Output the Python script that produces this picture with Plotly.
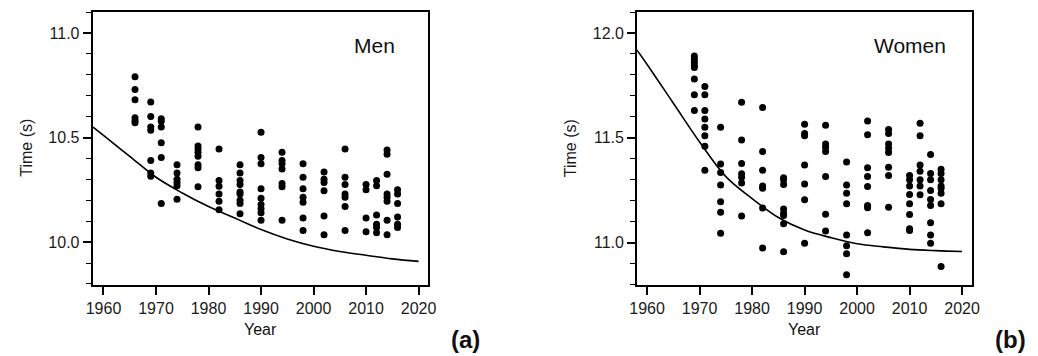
import plotly.graph_objects as go

# ---------------- data ----------------
men_years = [1966, 1969, 1971, 1974, 1978, 1982, 1986, 1990, 1994, 1998, 2002, 2006, 2010, 2012, 2014, 2016]
men_times = [
    [10.79, 10.73, 10.68, 10.595, 10.58, 10.57],
    [10.67, 10.60, 10.55, 10.535, 10.39, 10.33, 10.315],
    [10.59, 10.578, 10.55, 10.475, 10.405, 10.185],
    [10.37, 10.33, 10.30, 10.285, 10.27, 10.205],
    [10.55, 10.46, 10.445, 10.43, 10.41, 10.37, 10.355, 10.265],
    [10.445, 10.295, 10.267, 10.23, 10.195, 10.155],
    [10.37, 10.33, 10.295, 10.275, 10.24, 10.23, 10.20, 10.185, 10.135],
    [10.525, 10.405, 10.375, 10.255, 10.21, 10.18, 10.16, 10.14, 10.105],
    [10.43, 10.39, 10.375, 10.35, 10.28, 10.265, 10.105],
    [10.375, 10.31, 10.255, 10.215, 10.19, 10.115, 10.055],
    [10.335, 10.30, 10.285, 10.245, 10.125, 10.035],
    [10.445, 10.31, 10.275, 10.23, 10.215, 10.17, 10.055],
    [10.275, 10.25, 10.115, 10.05],
    [10.295, 10.27, 10.13, 10.085, 10.07, 10.045],
    [10.44, 10.42, 10.325, 10.23, 10.215, 10.195, 10.105, 10.035],
    [10.25, 10.23, 10.185, 10.12, 10.085, 10.07],
]
men_curve_years = [1958, 1960, 1965, 1970, 1975, 1980, 1985, 1990, 1995, 2000, 2005, 2010, 2015, 2020]
men_curve_times = [10.55, 10.51, 10.41, 10.31, 10.235, 10.17, 10.115, 10.06, 10.015, 9.98, 9.955, 9.937, 9.92, 9.908]

women_years = [1969, 1971, 1974, 1978, 1982, 1986, 1990, 1994, 1998, 2002, 2006, 2010, 2012, 2014, 2016]
women_times = [
    [11.89, 11.875, 11.86, 11.845, 11.835, 11.78, 11.705, 11.63],
    [11.745, 11.705, 11.63, 11.59, 11.55, 11.51, 11.46, 11.345],
    [11.55, 11.375, 11.335, 11.275, 11.195, 11.145, 11.045],
    [11.67, 11.49, 11.377, 11.328, 11.312, 11.285, 11.127],
    [11.645, 11.435, 11.345, 11.27, 11.26, 11.165, 10.975],
    [11.31, 11.30, 11.277, 11.16, 11.14, 11.13, 11.09, 10.957],
    [11.565, 11.52, 11.51, 11.37, 11.28, 11.205, 10.997],
    [11.56, 11.47, 11.455, 11.435, 11.315, 11.135, 11.055],
    [11.385, 11.275, 11.235, 11.185, 11.037, 10.985, 10.947, 10.847],
    [11.58, 11.515, 11.357, 11.315, 11.268, 11.177, 11.166, 11.047],
    [11.54, 11.52, 11.47, 11.45, 11.43, 11.36, 11.32, 11.169],
    [11.32, 11.30, 11.27, 11.23, 11.185, 11.134, 11.066, 11.058],
    [11.57, 11.51, 11.37, 11.34, 11.30, 11.27, 11.228],
    [11.42, 11.33, 11.30, 11.249, 11.206, 11.177, 11.095, 11.037, 10.997],
    [11.35, 11.33, 11.30, 11.27, 11.26, 11.236, 11.185, 10.886],
]
women_curve_years = [1958, 1960, 1965, 1970, 1975, 1980, 1985, 1990, 1995, 2000, 2005, 2010, 2015, 2020]
women_curve_times = [11.92, 11.85, 11.665, 11.48, 11.315, 11.21, 11.12, 11.06, 11.024, 10.995, 10.98, 10.968, 10.962, 10.958]

x_ticks = [1960, 1970, 1980, 1990, 2000, 2010, 2020]


def flatten(years, times):
    xs, ys = [], []
    for yr, vals in zip(years, times):
        for v in vals:
            xs.append(yr)
            ys.append(v)
    return xs, ys


FONT = "Liberation Sans, Arial, sans-serif"
fig = go.Figure()

mx, my = flatten(men_years, men_times)
wx, wy = flatten(women_years, women_times)

fig.add_trace(go.Scatter(x=mx, y=my, mode="markers", marker=dict(color="black", size=7),
                         xaxis="x", yaxis="y", showlegend=False))
fig.add_trace(go.Scatter(x=men_curve_years, y=men_curve_times, mode="lines", line=dict(color="black", width=1.6, shape="spline"),
                         xaxis="x", yaxis="y", showlegend=False))
fig.add_trace(go.Scatter(x=wx, y=wy, mode="markers", marker=dict(color="black", size=7),
                         xaxis="x2", yaxis="y2", showlegend=False))
fig.add_trace(go.Scatter(x=women_curve_years, y=women_curve_times, mode="lines", line=dict(color="black", width=1.6, shape="spline"),
                         xaxis="x2", yaxis="y2", showlegend=False))

W, H = 1038, 356
def fx(px):
    return px / W
def fy(py):
    return (H - py) / H

axis_common = dict(showline=True, linecolor="black", linewidth=2, mirror=True, showgrid=False, zeroline=False,
                   ticks="outside", ticklen=8, tickwidth=1.5, tickcolor="black",
                   tickfont=dict(family=FONT, size=16, color="#1a1a1a"))

fig.update_layout(
    width=W, height=H, margin=dict(l=0, r=0, t=0, b=0),
    paper_bgcolor="white", plot_bgcolor="white",
    xaxis=dict(domain=[fx(86), fx(427)], range=[1957.94, 2021.875], tickvals=x_ticks, anchor="y", **axis_common),
    yaxis=dict(domain=[fy(285), fy(12)], range=[9.795, 11.1], tickvals=[10.0, 10.5, 11.0], ticktext=["10.0", "10.5", "11.0"],
               anchor="x", minor=dict(ticks="outside", ticklen=5, tickwidth=1.2, tickcolor="black", dtick=0.1, tick0=10.0),
               **axis_common),
    xaxis2=dict(domain=[fx(639), fx(979)], range=[1958.1, 2021.875], tickvals=x_ticks, anchor="y2", **axis_common),
    yaxis2=dict(domain=[fy(285), fy(12)], range=[10.798, 12.1], tickvals=[11.0, 11.5, 12.0], ticktext=["11.0", "11.5", "12.0"],
                anchor="x2", minor=dict(ticks="outside", ticklen=5, tickwidth=1.2, tickcolor="black", dtick=0.1, tick0=11.0),
                **axis_common),
)

ann = [
    dict(text="Men", x=fx(372), y=fy(45), size=21, bold=False),
    dict(text="Women", x=fx(916), y=fy(45), size=21, bold=False),
    dict(text="Year", x=fx(256), y=fy(329), size=16, bold=False),
    dict(text="Year", x=fx(809), y=fy(329), size=16, bold=False),
    dict(text="(a)", x=fx(465), y=fy(339), size=24, bold=True),
    dict(text="(b)", x=fx(1018), y=fy(339), size=24, bold=True),
]
for a in ann:
    t = "<b>%s</b>" % a["text"] if a["bold"] else a["text"]
    fig.add_annotation(text=t, x=a["x"], y=a["y"], xref="paper", yref="paper", showarrow=False,
                       xanchor="center", yanchor="middle", borderpad=0,
                       font=dict(family=FONT, size=a["size"], color="#111"))

for xp in (18, 571):
    fig.add_annotation(text="Time (s)", x=fx(xp), y=fy(148), xref="paper", yref="paper", showarrow=False,
                       textangle=-90, xanchor="center", yanchor="middle",
                       font=dict(family=FONT, size=16, color="#1a1a1a"))

fig.write_html("out.html", config={"displayModeBar": False},
               post_script="document.body.style.margin='0';document.body.style.overflow='hidden';")
